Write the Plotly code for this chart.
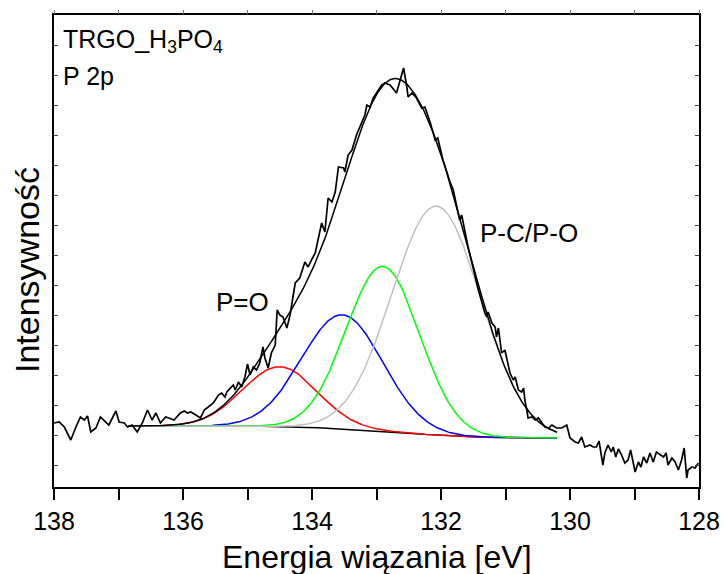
import numpy as np
import plotly.graph_objects as go

# ---------------- data ----------------
energy = [138.00, 137.92, 137.84, 137.74, 137.66, 137.59, 137.53, 137.48, 137.43, 137.35,
          137.28, 137.20, 137.15, 137.04, 136.99, 136.91, 136.86, 136.79, 136.71, 136.63,
          136.55, 136.48, 136.42, 136.35, 136.27, 136.22, 136.14, 136.04, 135.98, 135.93,
          135.88, 135.80, 135.73, 135.67, 135.61, 135.53, 135.45, 135.40, 135.35, 135.32,
          135.22, 135.19, 135.14, 135.09, 135.04, 135.00, 134.96, 134.91, 134.86, 134.81,
          134.76, 134.73, 134.68, 134.63, 134.57, 134.54, 134.50, 134.45, 134.39, 134.34,
          134.26, 134.19, 134.11, 134.06, 134.00, 133.95, 133.85, 133.80, 133.75, 133.69,
          133.64, 133.59, 133.51, 133.49, 133.44, 133.38, 133.31, 133.23, 133.18, 133.15,
          133.10, 133.05, 132.97, 132.92, 132.87, 132.79, 132.69, 132.58, 132.53, 132.51,
          132.45, 132.38, 132.30, 132.25, 132.17, 132.09, 132.05, 131.97, 131.86, 131.81,
          131.71, 131.68, 131.58, 131.50, 131.42, 131.32, 131.29, 131.27, 131.21, 131.16,
          131.14, 131.11, 131.06, 131.01, 130.98, 130.93, 130.88, 130.85, 130.80, 130.75,
          130.72, 130.70, 130.67, 130.65, 130.59, 130.54, 130.49, 130.44, 130.39, 130.33,
          130.28, 130.21, 130.13, 130.05, 130.00, 129.92, 129.87, 129.82, 129.77, 129.69,
          129.64, 129.59, 129.55, 129.49, 129.46, 129.41, 129.36, 129.33, 129.29, 129.25,
          129.20, 129.15, 129.10, 129.06, 129.02, 128.99, 128.94, 128.90, 128.86, 128.81,
          128.76, 128.71, 128.66, 128.60, 128.55, 128.51, 128.48, 128.42, 128.37, 128.32,
          128.27, 128.23, 128.19, 128.17, 128.11, 128.06, 128.01]
intensity = [64, 65, 60, 47, 60, 70, 67, 71, 55, 59,
             70, 65, 62, 76, 65, 64, 60, 62, 55, 64,
             77, 67, 74, 64, 70, 69, 67, 74, 76, 74,
             75, 72, 69, 77, 80, 84, 92, 94, 90, 95,
             102, 97, 105, 100, 110, 123, 112, 120, 117, 124,
             140, 129, 119, 134, 142, 177, 172, 170, 159, 172,
             204, 209, 225, 220, 228, 234, 264, 255, 289, 285,
             295, 320, 319, 315, 332, 337, 352, 365, 372, 382,
             380, 389, 397, 402, 404, 402, 394, 419, 400, 390,
             394, 389, 379, 380, 365, 347, 349, 327, 305, 297,
             267, 272, 240, 217, 197, 174, 170, 175, 164, 160,
             150, 159, 134, 137, 127, 114, 107, 110, 97, 95,
             99, 87, 77, 69, 70, 67, 69, 64, 60, 59,
             62, 59, 59, 62, 49, 45, 44, 50, 40, 42,
             40, 40, 46, 22, 34, 42, 35, 40, 30, 38,
             32, 24, 27, 37, 25, 15, 25, 20, 30, 24,
             34, 25, 35, 32, 30, 34, 22, 29, 25, 17,
             27, 39, 9, 17, 20, 19, 24]

# fitted components (position / height above background / FWHM, eV)
peak_center = [134.50, 133.53, 132.90, 132.07]
peak_height = [60, 114, 165, 229]
peak_fwhm = [1.36, 1.48, 1.34, 1.62]
peak_color = ["#ff0000", "#0000ff", "#00ff00", "#c0c0c0"]

fit_range = [130.20, 136.85]       # energy window of the fit
bg_ends = [49, 61]                 # background at low / high binding energy end

x_range = [138, 128]
y_range = [0, 472]

# ---------------- fit curves ----------------
e_fit = np.linspace(fit_range[0], fit_range[1], 400)
peaks = []
for c, h, w in zip(peak_center, peak_height, peak_fwhm):
    s = w / 2.3548
    peaks.append(h * np.exp(-(e_fit - c) ** 2 / (2 * s * s)))
p_sum = np.sum(peaks, axis=0)
cum = np.concatenate([[0], np.cumsum((p_sum[1:] + p_sum[:-1]) / 2 * np.diff(e_fit))])
bg = bg_ends[0] + (bg_ends[1] - bg_ends[0]) * cum / cum[-1]
envelope = bg + p_sum

FONT = "Liberation Sans, Arial, sans-serif"

fig = go.Figure()
fig.add_trace(go.Scatter(x=e_fit, y=bg, mode="lines",
                         line=dict(color="black", width=1.4), hoverinfo="skip"))
for pk, col in zip(peaks, peak_color):
    fig.add_trace(go.Scatter(x=e_fit, y=bg + pk, mode="lines",
                             line=dict(color=col, width=1.5)))
fig.add_trace(go.Scatter(x=e_fit, y=envelope, mode="lines",
                         line=dict(color="black", width=1.5)))
fig.add_trace(go.Scatter(x=energy, y=intensity, mode="lines",
                         line=dict(color="black", width=1.7)))
# invisible trace so that the top tick axis is drawn
fig.add_trace(go.Scatter(x=[133], y=[0], xaxis="x2", mode="markers",
                         marker=dict(opacity=0), hoverinfo="skip"))

L, R, T, B = 54, 25, 15, 87
W, H = 724, 574
pw, ph = W - L - R, H - T - B


def px(xp):
    return (xp - L) / pw


def py(yp):
    return (H - B - yp) / ph


annotations = [
    dict(text="TRGO_H<sub>3</sub>PO<sub>4</sub>", x=px(61), y=py(23), xref="paper", yref="paper",
         xanchor="left", yanchor="top", showarrow=False, font=dict(size=25, color="black", family=FONT)),
    dict(text="P 2p", x=px(61), y=py(76), xref="paper", yref="paper",
         xanchor="left", yanchor="middle", showarrow=False, font=dict(size=25, color="black", family=FONT)),
    dict(text="P=O", x=135.07, y=185, xref="x", yref="y",
         xanchor="center", yanchor="middle", showarrow=False, font=dict(size=26, color="black", family=FONT)),
    dict(text="P-C/P-O", x=131.43, y=254, xref="x", yref="y",
         xanchor="left", yanchor="middle", showarrow=False, font=dict(size=26, color="black", family=FONT)),
    dict(text="Energia wiązania [eV]", x=px(377), y=py(557), xref="paper", yref="paper",
         xanchor="center", yanchor="middle", showarrow=False, font=dict(size=32, color="black", family=FONT)),
    dict(text="Intensywność", x=px(27), y=py(270), xref="paper", yref="paper",
         xanchor="center", yanchor="middle", textangle=-90, showarrow=False,
         font=dict(size=34, color="black", family=FONT)),
]

fig.update_layout(
    width=W, height=H,
    margin=dict(l=L, r=R, t=T, b=B, autoexpand=False),
    paper_bgcolor="white", plot_bgcolor="white",
    showlegend=False,
    font=dict(family=FONT, color="black"),
    xaxis=dict(range=x_range, dtick=2, tick0=128,
               ticks="outside", ticklen=11, tickwidth=1.5, tickcolor="black",
               minor=dict(dtick=1, tick0=128, ticks="outside", ticklen=11, tickwidth=1.5,
                          tickcolor="black", showgrid=False),
               showline=True, linecolor="black", linewidth=2, mirror=True, automargin=False,
               showgrid=False, zeroline=False, tickfont=dict(size=25, family=FONT)),
    xaxis2=dict(range=x_range, overlaying="x", side="top", dtick=1, tick0=128,
                showticklabels=False, ticks="outside", ticklen=4, automargin=False,
                tickwidth=1, tickcolor="#777", showgrid=False, zeroline=False, showline=False),
    yaxis=dict(range=y_range, showticklabels=False, ticks="inside", ticklen=4,
               tickwidth=1, tickcolor="#444", tick0=22, dtick=30, automargin=False,
               showline=True, linecolor="black", linewidth=2, mirror="ticks",
               showgrid=False, zeroline=False),
    annotations=annotations,
)

fig.write_html("out.html")
